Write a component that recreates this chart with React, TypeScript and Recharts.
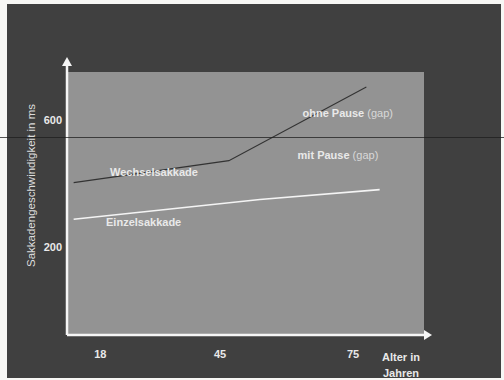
import React from 'react';
import { LineChart, Line, XAxis, YAxis, CartesianGrid, ReferenceDot, usePlotArea } from 'recharts';

const ageTicks = [18, 45, 75];
const valueTicks = [200, 600];
const wechselAges = [12, 47, 78];
const wechselValues = [403, 472, 703];
const einzelAges = [12, 54, 81];
const einzelValues = [288, 350, 381];
const noteTexts = ['ohne Pause', 'mit Pause', 'Wechselsakkade', 'Einzelsakkade'];
const noteSuffix = [' (gap)', ' (gap)', '', ''];
const noteAges = [63.6, 62.5, 20.2, 19.3];
const noteValues = [622, 491, 437, 281];

const wechselData = wechselAges.map((a, i) => ({ age: a, v: wechselValues[i] }));
const einzelData = einzelAges.map((a, i) => ({ age: a, v: einzelValues[i] }));

const FONT = '"Liberation Sans", Arial, sans-serif';
const LIGHT = '#e9e9e9';

function AxisArrows() {
  const area = usePlotArea();
  if (!area) return null;
  const { x, y, width, height } = area;
  const b = y + height;
  return (
    <g>
      <line x1={x} y1={b} x2={x} y2={y - 8} stroke="#f5f5f5" strokeWidth={2.5} />
      <polygon points={`${x - 5},${y - 6} ${x + 5},${y - 6} ${x},${y - 15}`} fill="#f5f5f5" />
      <line x1={x} y1={b} x2={x + width + 2} y2={b} stroke="#f5f5f5" strokeWidth={2.5} />
      <polygon points={`${x + width},${b - 5} ${x + width},${b + 5} ${x + width + 8},${b}`} fill="#f5f5f5" />
    </g>
  );
}

const YTitle = (props: any) => {
  const vb = props.viewBox;
  const cx = vb.x + 31;
  const cy = vb.y + vb.height / 2 - 18;
  return (
    <text x={cx} y={cy} transform={`rotate(-90 ${cx} ${cy})`} textAnchor="middle" dominantBaseline="central"
      fill="#dcdcdc" fontSize={11.5} fontFamily={FONT}>
      Sakkadengeschwindigkeit in ms
    </text>
  );
};

const XTitle = (props: any) => {
  const vb = props.viewBox;
  const cx = vb.x + vb.width - 23;
  return (
    <text textAnchor="middle" fill={LIGHT} fontSize={11} fontWeight="bold" fontFamily={FONT}>
      <tspan x={cx} y={vb.y + 26}>Alter in</tspan>
      <tspan x={cx} y={vb.y + 42}>Jahren</tspan>
    </text>
  );
};

export default function App() {
  return (
    <div style={{ position: 'absolute', left: 0, top: 0, width: 504, height: 380, background: '#f7f7f5', overflow: 'hidden' }}>
      <div style={{ position: 'absolute', left: 7, top: 4, width: 494, height: 374, background: '#404040' }} />
      <div style={{ position: 'absolute', left: 0, top: 0 }}>
        <LineChart width={504} height={380} margin={{ top: 72, right: 80, bottom: 15, left: 0 }}>
          <CartesianGrid horizontal={false} vertical={false} fill="#939393" />
          <XAxis type="number" dataKey="age" domain={[10.5, 91]} ticks={ageTicks} allowDataOverflow
            height={30} tickLine={false} tickSize={0} tickMargin={15} axisLine={false}
            tick={{ fill: LIGHT, fontSize: 11, fontWeight: 'bold', fontFamily: FONT }}
            label={{ content: XTitle }} />
          <YAxis type="number" dataKey="v" domain={[-75, 750]} ticks={valueTicks} allowDataOverflow
            width={67} tickLine={false} tickSize={0} tickMargin={5} axisLine={false}
            tick={{ fill: LIGHT, fontSize: 11, fontWeight: 'bold', fontFamily: FONT }}
            label={{ content: YTitle }} />
          <Line data={wechselData} dataKey="v" type="linear" stroke="#333333" strokeWidth={1.1} dot={false} isAnimationActive={false} />
          <Line data={einzelData} dataKey="v" type="linear" stroke="#f4f4f4" strokeWidth={1.6} dot={false} isAnimationActive={false} />
          {noteTexts.map((t, i) => (
            <ReferenceDot key={t} x={noteAges[i]} y={noteValues[i]} r={0} ifOverflow="visible"
              shape={(p: any) => (
                <text x={p.cx} y={p.cy} dominantBaseline="central" fill={LIGHT} fontSize={11} fontFamily={FONT}>
                  <tspan fontWeight="bold">{t}</tspan>
                  <tspan fill="#d8d8d8">{noteSuffix[i]}</tspan>
                </text>
              )} />
          ))}
          <AxisArrows />
        </LineChart>
      </div>
      <div style={{ position: 'absolute', left: 0, top: 137, width: 504, height: 1, background: 'rgba(30,30,30,0.75)' }} />
    </div>
  );
}
